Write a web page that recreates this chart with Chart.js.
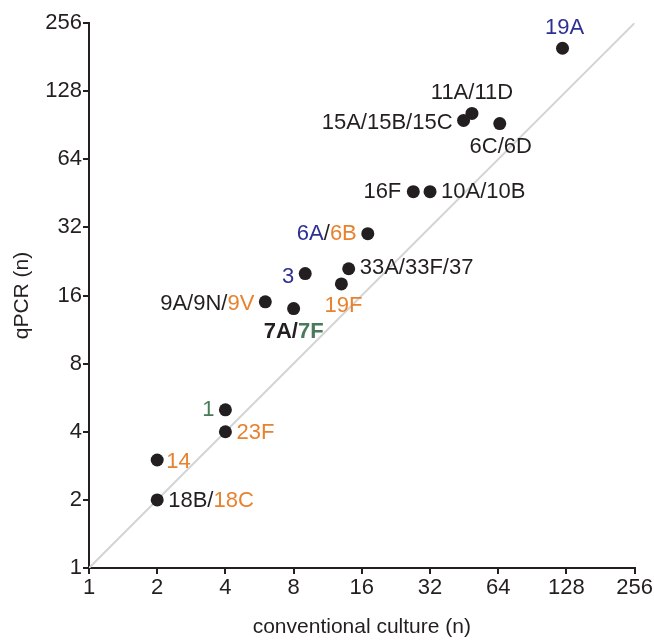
<!DOCTYPE html>
<html><head><meta charset="utf-8">
<script src="https://cdn.jsdelivr.net/npm/chart.js@4"></script>
<style>html,body{margin:0;padding:0;background:#fff}#wrap{width:654px;height:640px}</style>
</head><body><div id="wrap"><canvas id="c" width="654" height="640"></canvas></div>
<script>
// ---- data ----
const tickValues = [1, 2, 4, 8, 16, 32, 64, 128, 256];
const serotypes = ['19A','11A/11D','15A/15B/15C','6C/6D','16F','10A/10B','6A/6B','3','33A/33F/37','19F','9A/9N/9V','7A/7F','1','23F','14','18B/18C'];
const cultureCounts = [123, 49, 45, 65, 27, 32, 17, 9, 14, 13, 6, 8, 4, 4, 2, 2];
const qpcrCounts    = [198, 102, 95, 92, 46, 46, 30, 20, 21, 18, 15, 14, 5, 4, 3, 2];
// label text pieces with colour group (k=black, b=blue, o=orange, g=green)
const labelParts = [
  [['19A','b']], [['11A/11D','k']], [['15A/15B/15C','k']], [['6C/6D','k']],
  [['16F','k']], [['10A/10B','k']], [['6A','b'],['/','k'],['6B','o']], [['3','b']],
  [['33A/33F/37','k']], [['19F','o']], [['9A/9N/','k'],['9V','o']], [['7A/','kB'],['7F','gB']],
  [['1','g']], [['23F','o']], [['14','o']], [['18B/','k'],['18C','o']]
];
// ---- styles / placement ----
const palette = { k:'#231f20', b:'#2e3192', o:'#e8822e', g:'#4a7a5a' };
const labelPlace = [
  ['center',2,-20], ['center',0,-21], ['right',-11,3], ['center',1,23],
  ['right',-12,0], ['left',11,0], ['right',-11,0], ['right',-11,3],
  ['left',11,-1], ['center',2,22], ['right',-11,2], ['center',0,23],
  ['right',-11,0], ['left',11,1], ['left',9,2], ['left',11,1]
];
const FONT = "'Liberation Sans', Arial, sans-serif";
const LABEL_SIZE = 22;

const labelPlugin = {
  id: 'pointLabels',
  afterDatasetsDraw(chart) {
    const meta = chart.getDatasetMeta(0);
    const ctx = chart.ctx;
    ctx.save();
    ctx.textBaseline = 'middle';
    ctx.textAlign = 'left';
    meta.data.forEach((pt, i) => {
      const parts = labelParts[i];
      const [align, dx, dy] = labelPlace[i];
      const fonts = parts.map(p => (p[1].endsWith('B') ? 'bold ' : '') + LABEL_SIZE + 'px ' + FONT);
      let total = 0;
      const widths = parts.map((p, j) => { ctx.font = fonts[j]; const w = ctx.measureText(p[0]).width; total += w; return w; });
      let x = pt.x + dx;
      if (align === 'right') x -= total;
      else if (align === 'center') x -= total / 2;
      const y = pt.y + dy;
      parts.forEach((p, j) => {
        ctx.font = fonts[j];
        ctx.fillStyle = palette[p[1][0]];
        ctx.fillText(p[0], x, y);
        x += widths[j];
      });
    });
    ctx.restore();
  }
};

const axisCommon = (title, titlePad, fit) => ({
  type: 'logarithmic',
  min: 1, max: 256,
  afterBuildTicks: (axis) => { axis.ticks = tickValues.map(v => ({ value: v })); },
  afterFit: fit,
  border: { display: true, color: '#231f20', width: 2 },
  grid: { display: true, drawOnChartArea: false, drawTicks: true, tickLength: 6, color: '#231f20', lineWidth: 2 },
  ticks: { color: '#231f20', font: { family: FONT, size: 22 }, padding: 1, autoSkip: false, maxRotation: 0,
           callback: (v) => String(v) },
  title: { display: true, text: title, color: '#231f20', font: { family: FONT, size: 21 }, padding: titlePad }
});

new Chart(document.getElementById('c'), {
  data: {
    datasets: [
      { type: 'scatter', order: 0,
        data: cultureCounts.map((x, i) => ({ x, y: qpcrCounts[i] })),
        backgroundColor: '#231f20', borderWidth: 0, pointRadius: 6.5, pointHoverRadius: 6.5 },
      { type: 'line', order: 1,
        data: [{ x: tickValues[0], y: tickValues[0] }, { x: tickValues[tickValues.length - 1], y: tickValues[tickValues.length - 1] }],
        borderColor: '#d4d4d4', borderWidth: 2, pointRadius: 0, fill: false }
    ]
  },
  options: {
    responsive: false, animation: false,
    layout: { autoPadding: false, padding: { top: 23, right: 17, left: 0, bottom: 0 } },
    plugins: { legend: { display: false }, tooltip: { enabled: false } },
    scales: {
      x: Object.assign(axisCommon('conventional culture (n)', { top: 0, bottom: 0 }, s => { s.height = 72; }), { position: 'bottom' }),
      y: Object.assign(axisCommon('qPCR (n)', { top: 10, bottom: 0 }, s => { s.width = 89; }), { position: 'left' })
    }
  },
  plugins: [labelPlugin]
});
</script>
</body></html>
